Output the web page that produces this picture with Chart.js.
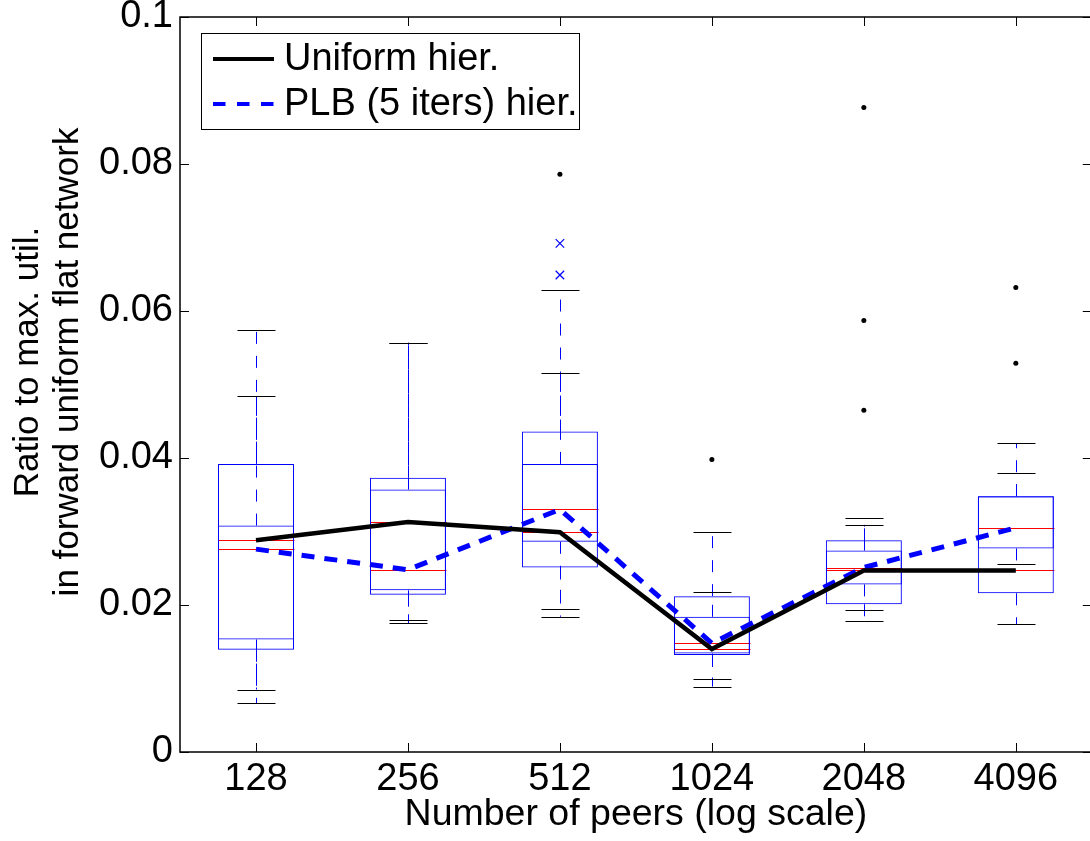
<!DOCTYPE html>
<html>
<head>
<meta charset="utf-8">
<script src="https://cdn.jsdelivr.net/npm/chart.js@4.4.1/dist/chart.umd.min.js"></script>
<style>
  html, body { margin: 0; padding: 0; background: #fff; overflow: hidden; }
  #wrap { position: relative; width: 1099px; height: 841px; }
</style>
</head>
<body>
<div id="wrap"><canvas id="chart"></canvas></div>
<script>
// x categories (number of peers) and y ticks
const peers = ['128', '256', '512', '1024', '2048', '4096'];
const yTicks = [0, 0.02, 0.04, 0.06, 0.08, 0.1];

// Uniform hier. box stats
const uniQ1 = [0.0139, 0.0214, 0.0251, 0.0132, 0.0201, 0.0216];
const uniQ3 = [0.0392, 0.0373, 0.0436, 0.0212, 0.0288, 0.0348];
const uniMed = [0.0288, 0.0313, 0.0299, 0.0140, 0.0247, 0.0247];
const uniLo = [0.0066, 0.0175, 0.0184, 0.0089, 0.0178, 0.0174];
const uniHi = [0.0574, 0.0557, 0.0628, 0.0300, 0.0318, 0.0420];
const uniOutX = ['512', '1024', '2048', '2048', '2048', '4096', '4096'];
const uniOutY = [0.0786, 0.0398, 0.0877, 0.0587, 0.0465, 0.0632, 0.0529];

// PLB (5 iters) hier. box stats
const plbQ1 = [0.0153, 0.0220, 0.0286, 0.0134, 0.0228, 0.0277];
const plbQ3 = [0.0308, 0.0357, 0.0392, 0.0184, 0.0274, 0.0348];
const plbMed = [0.0276, 0.0248, 0.0330, 0.0148, 0.0251, 0.0305];
const plbLo = [0.0085, 0.0180, 0.0194, 0.0099, 0.0193, 0.0256];
const plbHi = [0.0484, 0.0557, 0.0515, 0.0218, 0.0309, 0.0380];
const plbOutX = ['512', '512'];
const plbOutY = [0.0692, 0.0649];

const FONT = "'Liberation Sans', Arial, Helvetica, sans-serif";
Chart.defaults.font.family = FONT;
Chart.defaults.font.size = 38;
Chart.defaults.color = '#000';

const boxSeries = [
  { barIndex: 2, q1: uniQ1, q3: uniQ3, med: uniMed, lo: uniLo, hi: uniHi },
  { barIndex: 3, q1: plbQ1, q3: plbQ3, med: plbMed, lo: plbLo, hi: plbHi }
];

// whiskers, caps and medians, drawn under the boxes and lines
const boxParts = {
  id: 'boxParts',
  beforeDatasetsDraw(chart) {
    const ctx = chart.ctx;
    const xs = chart.scales.x, ys = chart.scales.y;
    const crisp = v => Math.round(v) + 0.5;
    ctx.save();
    boxSeries.forEach(s => {
      const bars = chart.getDatasetMeta(s.barIndex).data;
      peers.forEach((p, i) => {
        const x = crisp(xs.getPixelForValue(i));
        const half = bars[i].width / 2;
        // dashed whiskers
        ctx.strokeStyle = '#0000ff';
        ctx.lineWidth = 1;
        ctx.setLineDash([12, 12]);
        ctx.beginPath();
        ctx.moveTo(x, ys.getPixelForValue(s.q3[i]));
        ctx.lineTo(x, ys.getPixelForValue(s.hi[i]));
        ctx.moveTo(x, ys.getPixelForValue(s.q1[i]));
        ctx.lineTo(x, ys.getPixelForValue(s.lo[i]));
        ctx.stroke();
        ctx.setLineDash([]);
        // caps
        ctx.strokeStyle = '#000';
        ctx.beginPath();
        [s.hi[i], s.lo[i]].forEach(v => {
          const y = crisp(ys.getPixelForValue(v));
          ctx.moveTo(x - half / 2, y);
          ctx.lineTo(x + half / 2, y);
        });
        ctx.stroke();
        // median
        ctx.strokeStyle = '#ff0000';
        ctx.beginPath();
        const ym = crisp(ys.getPixelForValue(s.med[i]));
        ctx.moveTo(x - half, ym);
        ctx.lineTo(x + half, ym);
        ctx.stroke();
      });
    });
    ctx.restore();
  }
};

// MATLAB-like frame with inward ticks, legend and y title
const frame = {
  id: 'frame',
  afterDraw(chart) {
    const ctx = chart.ctx;
    const a = chart.chartArea;
    const xs = chart.scales.x, ys = chart.scales.y;
    ctx.save();
    ctx.strokeStyle = '#000';
    ctx.lineWidth = 1;
    ctx.beginPath();
    xs.ticks.forEach((t, i) => {
      const x = Math.round(xs.getPixelForTick(i)) + 0.5;
      ctx.moveTo(x, a.bottom); ctx.lineTo(x, a.bottom - 9);
      ctx.moveTo(x, a.top); ctx.lineTo(x, a.top + 9);
    });
    ys.ticks.forEach((t, i) => {
      const y = Math.round(ys.getPixelForTick(i)) + 0.5;
      ctx.moveTo(a.left, y); ctx.lineTo(a.left + 9, y);
      ctx.moveTo(a.right, y); ctx.lineTo(a.right - 9, y);
    });
    ctx.stroke();
    ctx.lineWidth = 1.5;
    ctx.strokeRect(a.left, a.top, a.right - a.left, a.bottom - a.top);

    // legend
    const lx = a.left + 21, ly = a.top + 16;
    ctx.fillStyle = '#fff';
    ctx.fillRect(lx, ly, 378, 96);
    ctx.lineWidth = 1;
    ctx.strokeRect(lx + 0.5, ly + 0.5, 378, 96);
    const rows = [
      { label: 'Uniform hier.', color: '#000', dash: [], width: 4, y: ly + 26 },
      { label: 'PLB (5 iters) hier.', color: '#0000ff', dash: [12.5, 11.5], width: 4, y: ly + 71 }
    ];
    rows.forEach(r => {
      ctx.strokeStyle = r.color;
      ctx.lineWidth = r.width;
      ctx.setLineDash(r.dash);
      ctx.beginPath();
      ctx.moveTo(lx + 12, r.y);
      ctx.lineTo(lx + 73, r.y);
      ctx.stroke();
      ctx.setLineDash([]);
      ctx.fillStyle = '#000';
      ctx.font = '38px ' + FONT;
      ctx.textAlign = 'left';
      ctx.textBaseline = 'middle';
      ctx.fillText(r.label, lx + 83, r.y + 1);
    });

    // y axis title, two lines
    ctx.font = '35px ' + FONT;
    ctx.translate(28, 362);
    ctx.rotate(-Math.PI / 2);
    ctx.textAlign = 'center';
    ctx.textBaseline = 'middle';
    ctx.fillText('Ratio to max. util.', 0, 0);
    ctx.fillText('in forward uniform flat network', 0, 40);
    ctx.restore();
  }
};

new Chart(document.getElementById('chart'), {
  type: 'bar',
  data: {
    labels: peers,
    datasets: [
      {
        type: 'line', label: 'Uniform hier.', data: uniMed,
        borderColor: '#000', borderWidth: 4.5, pointRadius: 0, tension: 0, order: 0
      },
      {
        type: 'line', label: 'PLB (5 iters) hier.', data: plbMed,
        borderColor: '#0000ff', borderWidth: 5, borderDash: [13, 10], pointRadius: 0, tension: 0, order: 1
      },
      {
        label: 'uniform box', data: uniQ1.map((q, i) => [q, uniQ3[i]]),
        backgroundColor: 'rgba(0,0,0,0)', borderColor: '#0000ff', borderWidth: 1, borderSkipped: false,
        grouped: false, barPercentage: 0.5, categoryPercentage: 1, order: 5
      },
      {
        label: 'plb box', data: plbQ1.map((q, i) => [q, plbQ3[i]]),
        backgroundColor: 'rgba(0,0,0,0)', borderColor: '#0000ff', borderWidth: 1, borderSkipped: false,
        grouped: false, barPercentage: 0.5, categoryPercentage: 1, order: 5
      },
      {
        type: 'line', label: 'uniform outliers', showLine: false,
        data: uniOutX.map((x, i) => ({ x: x, y: uniOutY[i] })),
        pointStyle: 'circle', pointRadius: 2.5, pointBackgroundColor: '#000', pointBorderWidth: 0, order: 2
      },
      {
        type: 'line', label: 'plb outliers', showLine: false,
        data: plbOutX.map((x, i) => ({ x: x, y: plbOutY[i] })),
        pointStyle: 'crossRot', pointRadius: 6, pointBorderColor: '#0000ff', pointBorderWidth: 1.2, order: 2
      }
    ]
  },
  options: {
    responsive: true,
    maintainAspectRatio: false,
    animation: false,
    layout: { padding: { top: 17, right: 0, bottom: 0, left: 0 } },
    plugins: {
      legend: { display: false },
      tooltip: { enabled: false }
    },
    scales: {
      x: {
        offset: true,
        grid: { display: false, drawTicks: false },
        border: { display: false },
        ticks: { padding: 5, maxRotation: 0, autoSkip: false },
        title: {
          display: true, text: 'Number of peers (log scale)',
          font: { size: 37.5 }, padding: { top: 0, bottom: 4 }
        },
        afterFit(scale) {
          scale.height = 89;
          scale.paddingLeft = 0; scale.paddingRight = 0;
        }
      },
      y: {
        min: 0, max: 0.1,
        grid: { display: false, drawTicks: false },
        border: { display: false },
        ticks: {
          stepSize: 0.02, padding: 7,
          callback: v => String(+v.toFixed(2))
        },
        afterBuildTicks(scale) { scale.ticks = yTicks.map(v => ({ value: v })); },
        afterFit(scale) {
          scale.width = 180;
          scale.paddingTop = 0; scale.paddingBottom = 0;
        }
      }
    }
  },
  plugins: [boxParts, frame]
});
</script>
</body>
</html>
